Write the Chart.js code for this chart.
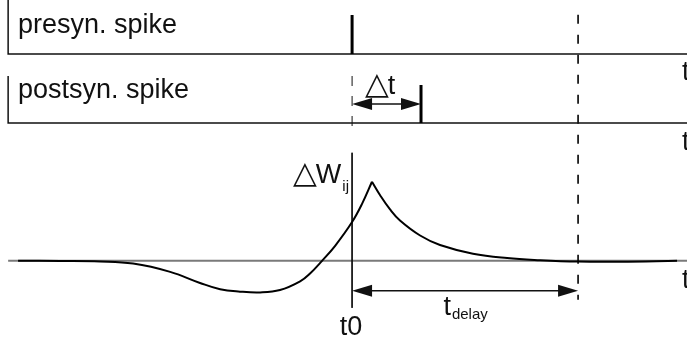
<!DOCTYPE html>
<html>
<head>
<meta charset="utf-8">
<script src="https://cdn.jsdelivr.net/npm/chart.js@4/dist/chart.umd.min.js"></script>
<style>
  html, body { margin: 0; padding: 0; background: #fff; }
  canvas { display: block; }
</style>
</head>
<body>
<canvas id="stdpChart" width="687" height="343"></canvas>
<script>
// spike times (t0 = presynaptic spike)
var preSpike = 0;
var postSpike = 3.05;
var tDelay = 10;

// weight change curve, rising branch up to the peak
var riseT = [-14.78, -12.92, -11.15, -9.69, -8.05, -6.73, -5.84, -4.96, -4.07, -3.19, -2.30, -1.86, -1.33, -0.75, 0, 0.44, 0.88];
var riseW = [0, -0.002, -0.008, -0.035, -0.14, -0.28, -0.36, -0.39, -0.40, -0.37, -0.26, -0.16, 0, 0.19, 0.49, 0.72, 1.0];
// decaying branch after the peak
var decayT = [0.88, 1.24, 1.68, 2.12, 3.01, 3.89, 5.35, 6.86, 8.32, 10.0, 11.86, 14.38];
var decayW = [1.0, 0.83, 0.65, 0.51, 0.32, 0.20, 0.09, 0.035, 0.008, -0.01, -0.012, 0];

var tMin = -15.58, tMax = 14.82, tFrame = -15.22;

function pts(xs, ys) {
    return xs.map(function (x, i) { return { x: x, y: ys[i] }; });
}

var ink = '#111';
var font = "'Liberation Sans', Arial, 'DejaVu Sans', sans-serif";
var symFont = "'DejaVu Sans', sans-serif";

// arrows and labels on top of the traces
var annotations = {
    id: 'annotations',
    afterDatasetsDraw: function (chart) {
        var c = chart.ctx;
        var sx = chart.scales.x, yW = chart.scales.yW, yPost = chart.scales.yPost;

        function head(x, y, dir) {
            c.beginPath();
            c.moveTo(x, y);
            c.lineTo(x + dir * 20, y - 6);
            c.lineTo(x + dir * 20, y + 6);
            c.closePath();
            c.fill();
        }
        function arrow(x1, x2, y) {
            c.beginPath();
            c.moveTo(x1 + 10, y);
            c.lineTo(x2 - 10, y);
            c.stroke();
            head(x1, y, 1);
            head(x2, y, -1);
        }
        // delta symbol followed by a letter, returns the end x
        function deltaText(letter, x, y) {
            c.textAlign = 'left';
            c.font = '31px ' + symFont;
            c.fillText('\u25B3', x, y);
            var w = c.measureText('\u25B3').width;
            c.font = '27px ' + font;
            c.fillText(letter, x + w - 1, y);
            return x + w - 1 + c.measureText(letter).width;
        }

        c.save();
        c.strokeStyle = ink;
        c.fillStyle = ink;
        c.lineWidth = 1.5;

        var x0 = sx.getPixelForValue(preSpike);
        var xPost = sx.getPixelForValue(postSpike);
        var xDelay = sx.getPixelForValue(tDelay);
        var yDt = yPost.getPixelForValue(0.5);
        var yDel = yW.getPixelForValue(-0.38);
        arrow(x0, xPost, yDt);
        arrow(x0, xDelay, yDel);

        c.textBaseline = 'alphabetic';
        c.font = '27px ' + font;
        c.textAlign = 'left';
        c.fillText('presyn. spike', 18, 33);
        c.fillText('postsyn. spike', 18, 98);
        c.fillText('t', 682, 80);
        c.fillText('t', 682, 150);
        c.fillText('t', 682, 288);

        c.textAlign = 'center';
        c.fillText('t0', x0 - 1, 335);

        deltaText('t', 365, 94);

        // ΔW_ij label left of the axis
        var end = deltaText('W', 293, 183);
        c.font = '15px ' + font;
        c.fillText('ij', end + 1, 191);

        // t_delay label centred on its arrow
        c.font = '27px ' + font;
        var wt = c.measureText('t').width;
        c.font = '15px ' + font;
        var wd = c.measureText('delay').width;
        var lx = (x0 + xDelay) / 2 - (wt + wd) / 2;
        c.font = '27px ' + font;
        c.fillText('t', lx, 315);
        c.font = '15px ' + font;
        c.fillText('delay', lx + wt + 1, 319);

        c.restore();
    }
};

var ctx = document.getElementById('stdpChart').getContext('2d');
var chart = new Chart(ctx, {
    type: 'line',
    data: {
        datasets: [
            // curve, split at the peak so the cusp stays sharp
            { data: pts(riseT, riseW), yAxisID: 'yW', borderColor: '#000', borderWidth: 2, tension: 0.4, order: 0 },
            { data: pts(decayT, decayW), yAxisID: 'yW', borderColor: '#000', borderWidth: 2, tension: 0.4, order: 0 },
            // zero line of the weight panel
            { data: [{ x: tFrame, y: 0 }, { x: tMax, y: 0 }], yAxisID: 'yW', borderColor: '#7a7a7a', borderWidth: 2, order: 5 },
            // t0 axis
            { data: [{ x: preSpike, y: 1.367 }, { x: preSpike, y: -0.595 }], yAxisID: 'yW', borderColor: ink, borderWidth: 1, order: 4 },
            { data: [{ x: preSpike, y: 1.237 }, { x: preSpike, y: -0.24 }], yAxisID: 'yPost', borderColor: ink, borderWidth: 1, borderDash: [10, 10], order: 4 },
            // t_delay marker
            { data: [{ x: tDelay, y: 3.114 }, { x: tDelay, y: -0.494 }], yAxisID: 'yW', borderColor: '#000', borderWidth: 1.6, borderDash: [9, 11], order: 4 },
            // spike train frames
            { data: [{ x: tFrame, y: 1.385 }, { x: tFrame, y: 0 }, { x: tMax, y: 0 }], yAxisID: 'yPre', borderColor: ink, borderWidth: 1.5, order: 3 },
            { data: [{ x: tFrame, y: 1.237 }, { x: tFrame, y: 0 }, { x: tMax, y: 0 }], yAxisID: 'yPost', borderColor: ink, borderWidth: 1.5, order: 3 },
            // spikes
            { data: [{ x: preSpike, y: 0 }, { x: preSpike, y: 1 }], yAxisID: 'yPre', borderColor: '#000', borderWidth: 3, order: 1 },
            { data: [{ x: postSpike, y: 0 }, { x: postSpike, y: 1 }], yAxisID: 'yPost', borderColor: '#000', borderWidth: 3, order: 1 }
        ]
    },
    options: {
        responsive: false,
        animation: false,
        devicePixelRatio: 1,
        layout: { padding: 0 },
        elements: { point: { radius: 0 }, line: { fill: false, borderCapStyle: 'butt' } },
        plugins: { legend: { display: false }, tooltip: { enabled: false } },
        scales: {
            x: { type: 'linear', min: tMin, max: tMax, display: false },
            yW: { type: 'linear', min: -1.04, max: 3.30, display: false },
            yPre: { type: 'linear', min: -7.41, max: 1.385, display: false },
            yPost: { type: 'linear', min: -5.79, max: 3.237, display: false }
        }
    },
    plugins: [annotations]
});
</script>
</body>
</html>
